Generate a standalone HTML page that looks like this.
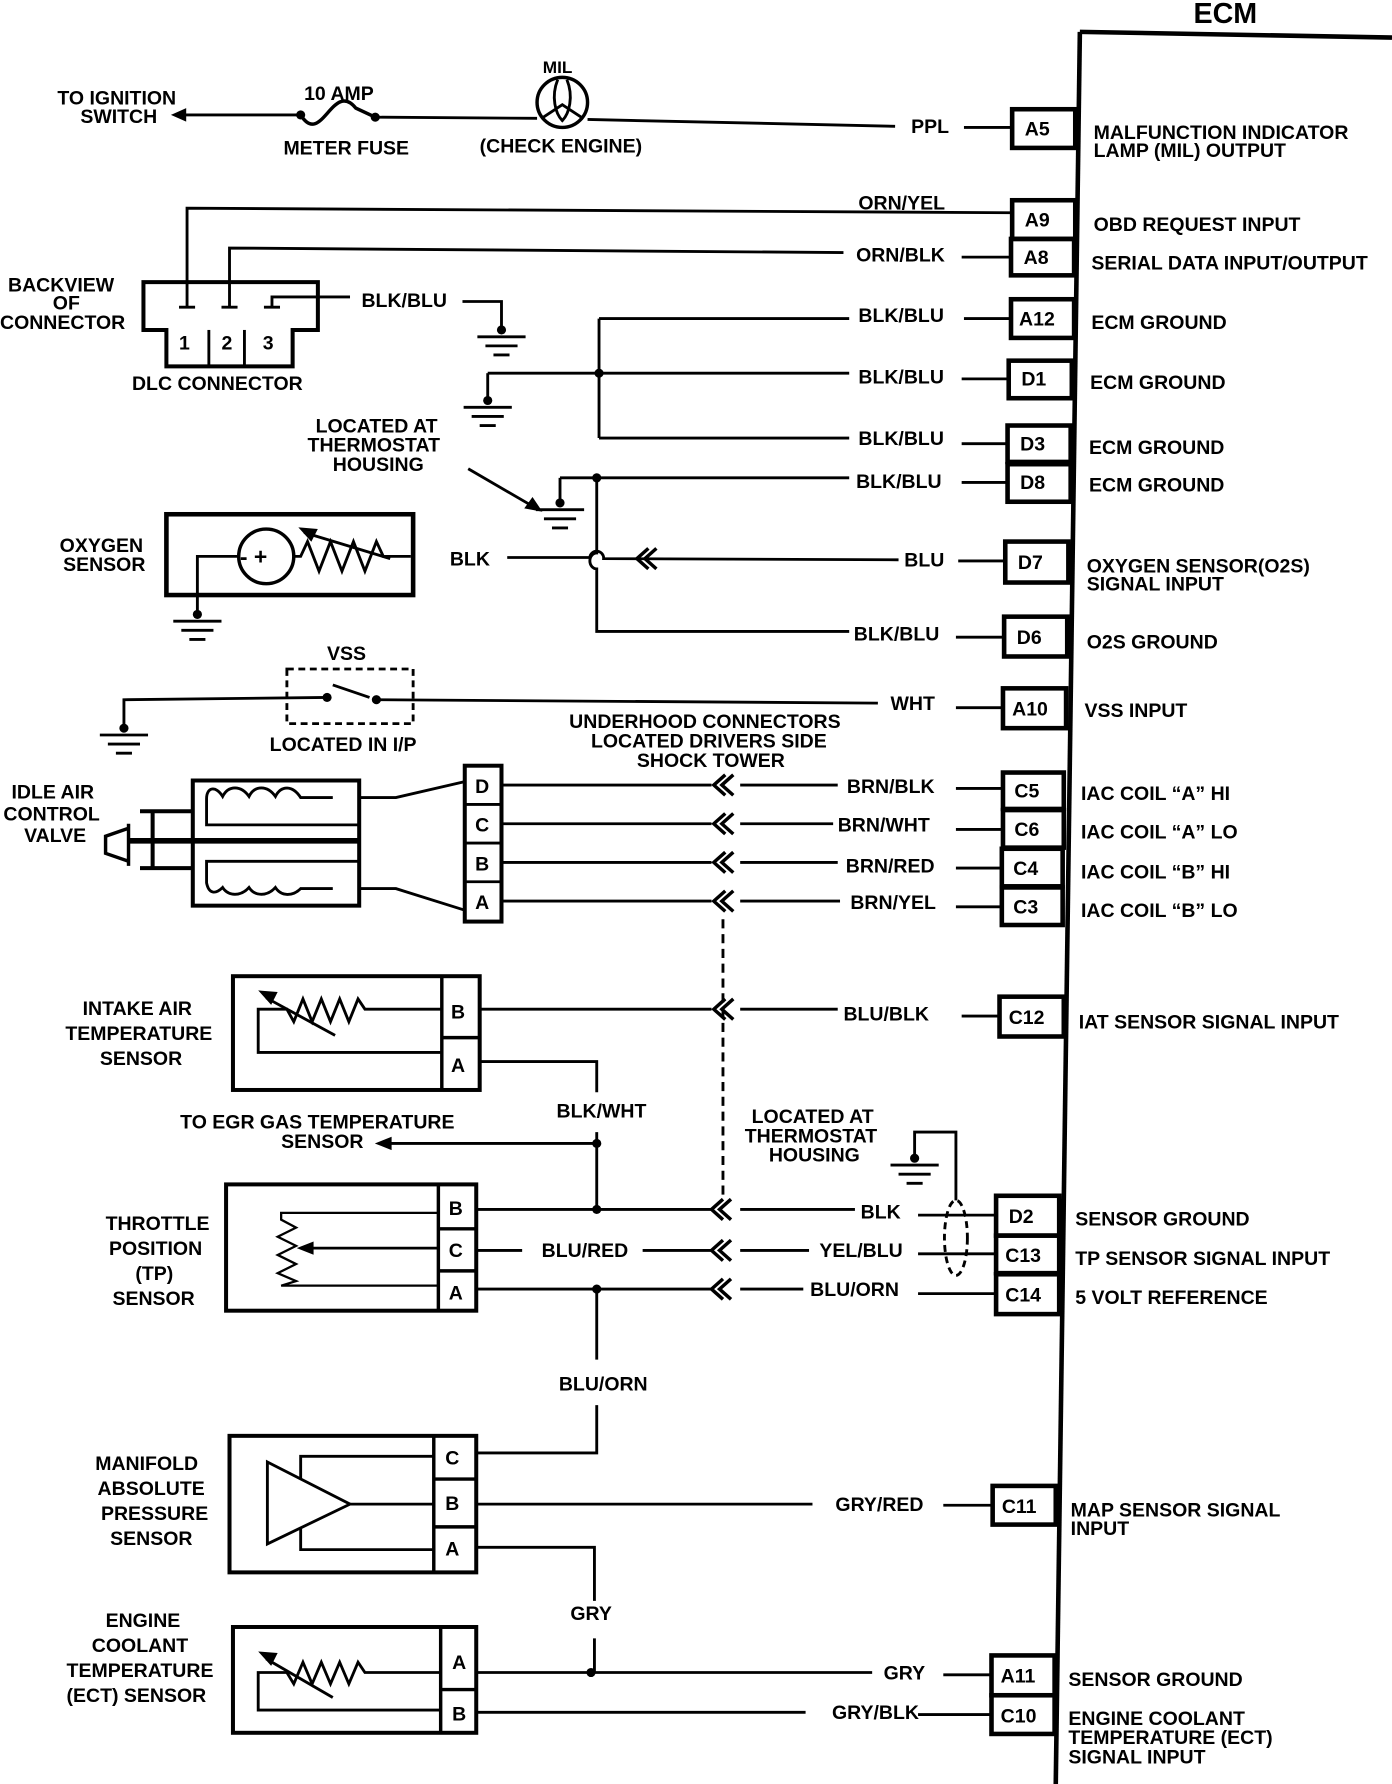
<!DOCTYPE html>
<html><head><meta charset="utf-8"><style>
html,body{margin:0;padding:0;background:#fff;}
svg{display:block;}
text{font-family:"Liberation Sans",sans-serif;font-weight:bold;font-size:17px;fill:#000;}
</style></head><body>
<svg width="1392" height="1784" viewBox="0 0 1213 1568" preserveAspectRatio="none" xmlns="http://www.w3.org/2000/svg">
<defs>
<g id="gnd" fill="none" stroke="#000" stroke-width="2.5">
<line x1="-21" y1="0" x2="21" y2="0"/><line x1="-14" y1="8" x2="14" y2="8"/><line x1="-7" y1="16" x2="7" y2="16"/>
</g>
<path id="chev" d="M10,-9 L0,0 L10,9 M17,-9 L7,0 L17,9" fill="none" stroke="#000" stroke-width="3"/>
</defs>
<g fill="none" stroke="#000" stroke-width="2.5">
<!-- ECM -->
<line x1="941" y1="28" x2="920" y2="1568" stroke-width="4"/>
<line x1="941" y1="28" x2="1213" y2="33" stroke-width="4"/>
<!-- pin boxes -->
<g stroke-width="4">
<rect x="882" y="96" width="55" height="34"/>
<rect x="882" y="176" width="55" height="34"/>
<rect x="881" y="210" width="55" height="32"/>
<rect x="881" y="263" width="55" height="34"/>
<rect x="879" y="317" width="55" height="33"/>
<rect x="878" y="374" width="55" height="32"/>
<rect x="878" y="408" width="55" height="33"/>
<rect x="876" y="476" width="55" height="36"/>
<rect x="875" y="542" width="55" height="35"/>
<rect x="874" y="605" width="55" height="35"/>
<rect x="874" y="679" width="53" height="32"/>
<rect x="874" y="712" width="53" height="33"/>
<rect x="873" y="746" width="53" height="33"/>
<rect x="873" y="780" width="53" height="33"/>
<rect x="871" y="876" width="56" height="35"/>
<rect x="868" y="1051" width="55" height="35"/>
<rect x="868" y="1086" width="55" height="33"/>
<rect x="868" y="1120" width="55" height="35"/>
<rect x="865" y="1306" width="55" height="34"/>
<rect x="864" y="1455" width="55" height="35"/>
<rect x="864" y="1490" width="55" height="34"/>
</g>
<!-- stubs -->
<line x1="840" y1="112" x2="882" y2="112"/>
<line x1="838" y1="226" x2="881" y2="226"/>
<line x1="840" y1="280" x2="881" y2="280"/>
<line x1="838" y1="333" x2="879" y2="333"/>
<line x1="838" y1="390" x2="878" y2="390"/>
<line x1="838" y1="424" x2="878" y2="424"/>
<line x1="835" y1="493" x2="876" y2="493"/>
<line x1="833" y1="560" x2="875" y2="560"/>
<line x1="833" y1="622" x2="874" y2="622"/>
<line x1="833" y1="693" x2="874" y2="693"/>
<line x1="833" y1="729" x2="874" y2="729"/>
<line x1="833" y1="763" x2="873" y2="763"/>
<line x1="833" y1="797" x2="873" y2="797"/>
<line x1="838" y1="893" x2="871" y2="893"/>
<line x1="800" y1="1068" x2="868" y2="1068"/>
<line x1="800" y1="1102" x2="868" y2="1102"/>
<line x1="800" y1="1137" x2="868" y2="1137"/>
<line x1="822" y1="1323" x2="865" y2="1323"/>
<line x1="822" y1="1472" x2="864" y2="1472"/>
<line x1="800" y1="1507" x2="864" y2="1507"/>

<!-- top circuit -->
<line x1="152" y1="101" x2="262" y2="101"/>
<path d="M152,101 l9,-4 l0,8 z" fill="#000"/>
<path d="M262,101 C280,130 290,70 310,95 L327,103" stroke-width="3"/>
<line x1="327" y1="103" x2="468" y2="104"/>
<circle cx="490" cy="90" r="22" stroke-width="3"/>
<path d="M486,70 C480,85 484,100 490,106 C496,100 500,85 494,70 M472,104 L490,92 L508,104"/>
<line x1="512" y1="105" x2="780" y2="111"/>

<!-- DLC -->
<path d="M125,248 L277,248 L277,290 L255,290 L255,322 L145,322 L145,290 L125,290 Z" stroke-width="3.5"/>
<line x1="182" y1="290" x2="182" y2="322"/><line x1="213" y1="290" x2="213" y2="322"/>
<path d="M163,270 L163,183 L882,187"/><line x1="156" y1="270" x2="170" y2="270"/>
<path d="M200,270 L200,218 L735,222"/><line x1="193" y1="270" x2="207" y2="270"/>
<path d="M230,270 L244,270 M237,270 L237,261 L305,261"/>
<path d="M403,265 L437,265 L437,290"/>
<use href="#gnd" x="437" y="296"/>

<!-- ground bus 1 -->
<line x1="522" y1="280" x2="522" y2="385"/>
<line x1="522" y1="280" x2="740" y2="280"/>
<line x1="425" y1="328" x2="740" y2="328"/>
<line x1="522" y1="385" x2="740" y2="385"/>
<line x1="425" y1="328" x2="425" y2="352"/>
<use href="#gnd" x="425" y="358"/>
<!-- ground bus 2 -->
<path d="M520,420 L520,486 A6,7 0 0 0 520,500 L520,555 L740,555"/>
<line x1="488" y1="420" x2="740" y2="420"/>
<line x1="488" y1="420" x2="488" y2="442"/>
<use href="#gnd" x="488" y="448"/>
<line x1="408" y1="412" x2="466" y2="446"/>
<path d="M470,448 l-11,-2 l5,-7 z" fill="#000"/>

<!-- O2 sensor -->
<rect x="145" y="452" width="215" height="71" stroke-width="4"/>
<circle cx="232" cy="489" r="24" stroke-width="3"/>
<path d="M256,489 L262,489 L268,476 L278,502 L288,476 L298,502 L308,476 L318,502 L328,476 L334,489 L358,489"/>
<line x1="265" y1="468" x2="340" y2="491"/>
<path d="M263,465 l12,1 l-4,8 z" fill="#000"/>
<path d="M172,540 L172,489 L208,489"/>
<use href="#gnd" x="172" y="546"/>
<path d="M442,490 L514,490 A6,6 0 0 1 526,491 L783,492"/>
<use href="#chev" x="555" y="491"/>

<!-- VSS -->
<rect x="250" y="588" width="110" height="48" stroke-dasharray="6,4"/>
<path d="M108,640 L108,615 L285,613"/>
<use href="#gnd" x="108" y="646"/>
<line x1="290" y1="602" x2="322" y2="613"/>
<line x1="328" y1="615" x2="765" y2="618"/>

<!-- IAC -->
<rect x="405" y="673" width="32" height="137" stroke-width="3.5"/>
<line x1="405" y1="707" x2="437" y2="707"/><line x1="405" y1="741" x2="437" y2="741"/><line x1="405" y1="775" x2="437" y2="775"/>
<rect x="168" y="686" width="145" height="110" stroke-width="3.5"/>
<path d="M122,713 L168,713 M122,763 L168,763 M133,713 L133,763" stroke-width="3.5"/>
<path d="M112,728 L92,735 L92,750 L112,757 Z M112,724 L112,761" stroke-width="3"/>
<line x1="112" y1="739" x2="313" y2="739" stroke-width="5"/>
<path d="M290,701 L262,701 C255,690 245,690 240,700 C233,690 222,690 217,700 C210,690 199,690 194,700 C188,690 180,692 180,702 L180,725 L313,725"/>
<path d="M313,757 L180,757 L180,776 C182,786 188,786 194,780 C199,788 210,788 217,780 C222,788 233,788 240,780 C245,788 255,788 262,781 L290,781"/>
<path d="M313,701 L345,701 L405,687"/>
<path d="M313,781 L345,781 L405,800"/>
<line x1="437" y1="690" x2="620" y2="690"/><line x1="645" y1="690" x2="730" y2="690"/>
<line x1="437" y1="724" x2="620" y2="724"/><line x1="645" y1="724" x2="726" y2="724"/>
<line x1="437" y1="758" x2="620" y2="758"/><line x1="645" y1="758" x2="730" y2="758"/>
<line x1="437" y1="792" x2="620" y2="792"/><line x1="645" y1="792" x2="732" y2="792"/>
<use href="#chev" x="622" y="690"/><use href="#chev" x="622" y="724"/><use href="#chev" x="622" y="758"/><use href="#chev" x="622" y="792"/>
<line x1="630" y1="808" x2="630" y2="1055" stroke-dasharray="8,5"/>

<!-- IAT -->
<rect x="203" y="858" width="215" height="100" stroke-width="3.5"/>
<line x1="385" y1="858" x2="385" y2="958" stroke-width="3"/><line x1="385" y1="912" x2="418" y2="912" stroke-width="3"/>
<path d="M385,887 L318,887 L312,878 L304,898 L296,878 L288,898 L280,878 L272,898 L264,878 L256,898 L250,887 L225,887 L225,925 L385,925"/>
<line x1="232" y1="877" x2="292" y2="910"/>
<path d="M228,872 l12,1 l-4,8 z" fill="#000"/>
<line x1="418" y1="887" x2="620" y2="887"/><line x1="645" y1="887" x2="730" y2="887"/>
<use href="#chev" x="622" y="887"/>
<path d="M418,933 L520,933 L520,960"/>
<line x1="520" y1="995" x2="520" y2="1063"/>
<line x1="340" y1="1005" x2="520" y2="1005"/>
<path d="M330,1005 l10,-4 l0,8 z" fill="#000"/>

<!-- TP -->
<rect x="197" y="1041" width="218" height="111" stroke-width="3.5"/>
<line x1="382" y1="1041" x2="382" y2="1152" stroke-width="3"/>
<line x1="382" y1="1080" x2="415" y2="1080" stroke-width="3"/><line x1="382" y1="1117" x2="415" y2="1117" stroke-width="3"/>
<path d="M382,1066 L245,1066 L245,1072 L258,1079 L242,1087 L258,1095 L242,1103 L258,1111 L242,1119 L258,1126 L245,1130 L382,1130" stroke-width="2"/>
<line x1="382" y1="1097" x2="270" y2="1097"/>
<path d="M262,1097 l10,-4 l0,8 z" fill="#000"/>
<line x1="415" y1="1063" x2="620" y2="1063"/><line x1="645" y1="1063" x2="745" y2="1063"/>
<line x1="415" y1="1099" x2="455" y2="1099"/><line x1="560" y1="1099" x2="620" y2="1099"/><line x1="645" y1="1099" x2="705" y2="1099"/>
<line x1="415" y1="1133" x2="620" y2="1133"/><line x1="645" y1="1133" x2="700" y2="1133"/>
<use href="#chev" x="620" y="1063"/><use href="#chev" x="620" y="1099"/><use href="#chev" x="620" y="1133"/>
<path d="M520,1133 L520,1195"/>
<path d="M520,1235 L520,1277 L415,1277"/>
<ellipse cx="833" cy="1088" rx="10" ry="33" stroke-dasharray="6,4"/>
<path d="M833,1055 L833,995 L797,995 L797,1018"/>
<use href="#gnd" x="797" y="1024"/>

<!-- MAP -->
<rect x="200" y="1262" width="215" height="120" stroke-width="3.5"/>
<line x1="378" y1="1262" x2="378" y2="1382" stroke-width="3"/>
<line x1="378" y1="1300" x2="415" y2="1300" stroke-width="3"/><line x1="378" y1="1342" x2="415" y2="1342" stroke-width="3"/>
<path d="M233,1285 L305,1322 L233,1357 Z"/>
<path d="M262,1300 L262,1280 L378,1280 M305,1322 L378,1322 M262,1343 L262,1362 L378,1362"/>
<line x1="415" y1="1322" x2="708" y2="1322"/>
<path d="M415,1360 L518,1360 L518,1407"/>
<line x1="518" y1="1440" x2="518" y2="1470"/>

<!-- ECT -->
<rect x="203" y="1430" width="212" height="93" stroke-width="3.5"/>
<line x1="384" y1="1430" x2="384" y2="1523" stroke-width="3"/><line x1="384" y1="1485" x2="415" y2="1485" stroke-width="3"/>
<path d="M384,1470 L318,1470 L312,1461 L304,1480 L296,1461 L288,1480 L280,1461 L272,1480 L264,1461 L256,1480 L250,1470 L225,1470 L225,1503 L384,1503"/>
<line x1="232" y1="1458" x2="290" y2="1492"/>
<path d="M228,1453 l12,1 l-4,8 z" fill="#000"/>
<line x1="415" y1="1470" x2="760" y2="1470"/>
<line x1="415" y1="1505" x2="702" y2="1505"/>
</g>
<!-- dots -->
<g fill="#000">
<circle cx="262" cy="101" r="4"/><circle cx="327" cy="103" r="4"/>
<circle cx="437" cy="290" r="4"/><circle cx="522" cy="328" r="4"/><circle cx="425" cy="352" r="4"/>
<circle cx="520" cy="420" r="4"/><circle cx="488" cy="442" r="4"/><circle cx="172" cy="540" r="4"/>
<circle cx="285" cy="613" r="4"/><circle cx="328" cy="615" r="4"/><circle cx="108" cy="640" r="4"/>
<circle cx="520" cy="1005" r="4"/><circle cx="520" cy="1063" r="4"/><circle cx="520" cy="1133" r="4"/>
<circle cx="797" cy="1018" r="4"/><circle cx="515" cy="1470" r="4"/>
</g>
<!-- text -->
<text x="1040" y="20" style="font-size:25px">ECM</text>
<text x="50" y="92">TO IGNITION</text><text x="70" y="108">SWITCH</text>
<text x="265" y="88">10 AMP</text><text x="247" y="136">METER FUSE</text>
<text x="473" y="64" style="font-size:15px">MIL</text><text x="418" y="134">(CHECK ENGINE)</text>
<text x="7" y="256">BACKVIEW</text><text x="46" y="272">OF</text><text x="0" y="289">CONNECTOR</text>
<text x="156" y="307">1</text><text x="193" y="307">2</text><text x="229" y="307">3</text>
<text x="115" y="343">DLC CONNECTOR</text>
<text x="315" y="270">BLK/BLU</text>
<text x="275" y="380">LOCATED AT</text><text x="268" y="397">THERMOSTAT</text><text x="290" y="414">HOUSING</text>
<text x="52" y="485">OXYGEN</text><text x="55" y="502">SENSOR</text>
<text x="209" y="496" style="font-size:20px">- +</text>
<text x="392" y="497">BLK</text>
<text x="285" y="580">VSS</text><text x="235" y="660">LOCATED IN I/P</text>
<text x="496" y="640">UNDERHOOD CONNECTORS</text><text x="515" y="657">LOCATED DRIVERS SIDE</text><text x="555" y="674">SHOCK TOWER</text>
<text x="10" y="702">IDLE AIR</text><text x="3" y="721">CONTROL</text><text x="21" y="740">VALVE</text>
<text x="414" y="697">D</text><text x="414" y="731">C</text><text x="414" y="765">B</text><text x="414" y="799">A</text>
<text x="72" y="892">INTAKE AIR</text><text x="57" y="914">TEMPERATURE</text><text x="87" y="936">SENSOR</text>
<text x="393" y="895">B</text><text x="393" y="942">A</text>
<text x="485" y="982">BLK/WHT</text>
<text x="157" y="992">TO EGR GAS TEMPERATURE</text><text x="245" y="1009">SENSOR</text>
<text x="655" y="987">LOCATED AT</text><text x="649" y="1004">THERMOSTAT</text><text x="670" y="1021">HOUSING</text>
<text x="92" y="1081">THROTTLE</text><text x="95" y="1103">POSITION</text><text x="118" y="1125">(TP)</text><text x="98" y="1147">SENSOR</text>
<text x="391" y="1068">B</text><text x="391" y="1105">C</text><text x="391" y="1142">A</text>
<text x="472" y="1105">BLU/RED</text>
<text x="487" y="1222">BLU/ORN</text>
<text x="83" y="1292">MANIFOLD</text><text x="85" y="1314">ABSOLUTE</text><text x="88" y="1336">PRESSURE</text><text x="96" y="1358">SENSOR</text>
<text x="388" y="1287">C</text><text x="388" y="1327">B</text><text x="388" y="1367">A</text>
<text x="497" y="1424">GRY</text>
<text x="92" y="1430">ENGINE</text><text x="80" y="1452">COOLANT</text><text x="58" y="1474">TEMPERATURE</text><text x="58" y="1496">(ECT) SENSOR</text>
<text x="394" y="1467">A</text><text x="394" y="1512">B</text>
<!-- wire labels -->
<text x="794" y="117">PPL</text>
<text x="748" y="184">ORN/YEL</text>
<text x="746" y="230">ORN/BLK</text>
<text x="748" y="283">BLK/BLU</text>
<text x="748" y="337">BLK/BLU</text>
<text x="748" y="391">BLK/BLU</text>
<text x="746" y="429">BLK/BLU</text>
<text x="788" y="498">BLU</text>
<text x="744" y="563">BLK/BLU</text>
<text x="776" y="624">WHT</text>
<text x="738" y="697">BRN/BLK</text>
<text x="730" y="731">BRN/WHT</text>
<text x="737" y="767">BRN/RED</text>
<text x="741" y="799">BRN/YEL</text>
<text x="735" y="897">BLU/BLK</text>
<text x="750" y="1071">BLK</text>
<text x="714" y="1105">YEL/BLU</text>
<text x="706" y="1139">BLU/ORN</text>
<text x="728" y="1328">GRY/RED</text>
<text x="770" y="1476">GRY</text>
<text x="725" y="1511">GRY/BLK</text>
<!-- pin labels -->
<text x="893" y="119">A5</text><text x="893" y="199">A9</text><text x="892" y="232">A8</text>
<text x="888" y="286">A12</text><text x="890" y="339">D1</text><text x="889" y="396">D3</text>
<text x="889" y="430">D8</text><text x="887" y="500">D7</text><text x="886" y="566">D6</text>
<text x="882" y="629">A10</text><text x="884" y="701">C5</text><text x="884" y="735">C6</text>
<text x="883" y="769">C4</text><text x="883" y="803">C3</text><text x="879" y="900">C12</text>
<text x="879" y="1075">D2</text><text x="876" y="1109">C13</text><text x="876" y="1144">C14</text>
<text x="873" y="1330">C11</text><text x="872" y="1479">A11</text><text x="872" y="1514">C10</text>
<!-- ECM descriptions -->
<text x="953" y="122">MALFUNCTION INDICATOR</text><text x="953" y="138">LAMP (MIL) OUTPUT</text>
<text x="953" y="203">OBD REQUEST INPUT</text>
<text x="951" y="237">SERIAL DATA INPUT/OUTPUT</text>
<text x="951" y="289">ECM GROUND</text><text x="950" y="342">ECM GROUND</text>
<text x="949" y="399">ECM GROUND</text><text x="949" y="432">ECM GROUND</text>
<text x="947" y="503">OXYGEN SENSOR(O2S)</text><text x="947" y="519">SIGNAL INPUT</text>
<text x="947" y="570">O2S GROUND</text>
<text x="945" y="630">VSS INPUT</text>
<text x="942" y="703">IAC COIL “A” HI</text><text x="942" y="737">IAC COIL “A” LO</text>
<text x="942" y="772">IAC COIL “B” HI</text><text x="942" y="806">IAC COIL “B” LO</text>
<text x="940" y="904">IAT SENSOR SIGNAL INPUT</text>
<text x="937" y="1077">SENSOR GROUND</text>
<text x="937" y="1112">TP SENSOR SIGNAL INPUT</text>
<text x="937" y="1146">5 VOLT REFERENCE</text>
<text x="933" y="1333">MAP SENSOR SIGNAL</text><text x="933" y="1349">INPUT</text>
<text x="931" y="1482">SENSOR GROUND</text>
<text x="931" y="1516">ENGINE COOLANT</text><text x="931" y="1533">TEMPERATURE (ECT)</text><text x="931" y="1550">SIGNAL INPUT</text>
</svg>
</body></html>
